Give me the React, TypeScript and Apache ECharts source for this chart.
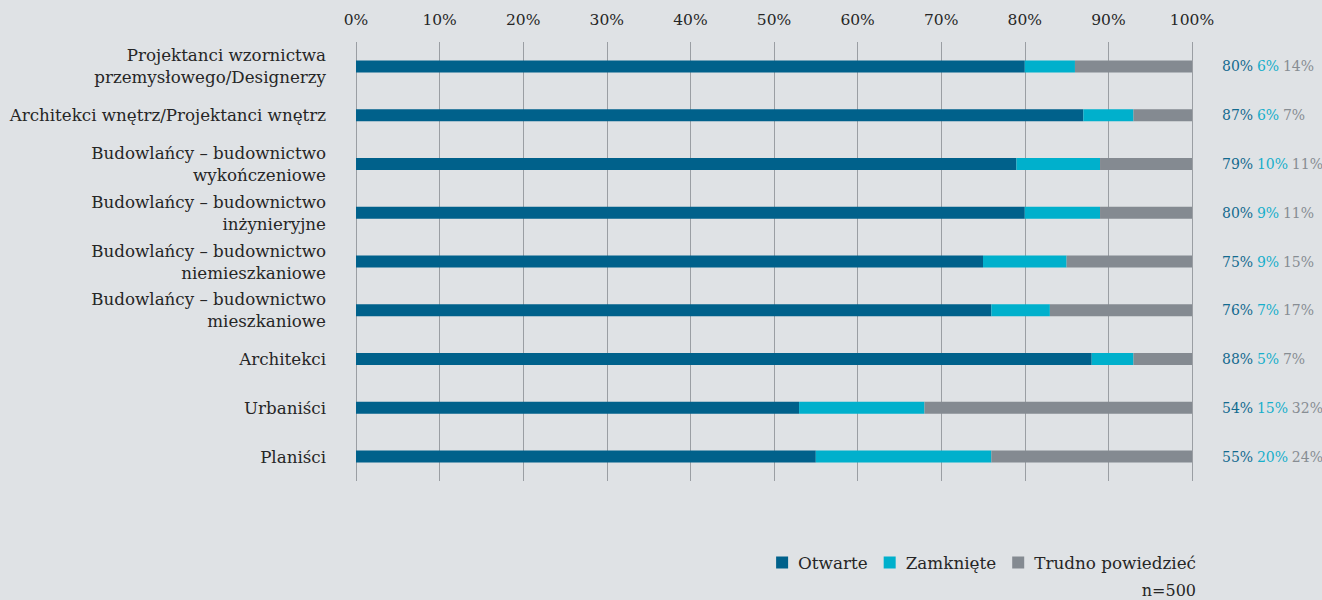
import React, { useEffect, useRef } from "react";
import * as echarts from "echarts";

const categories = [
  "Projektanci wzornictwa\nprzemysłowego/Designerzy",
  "Architekci wnętrz/Projektanci wnętrz",
  "Budowlańcy – budownictwo\nwykończeniowe",
  "Budowlańcy – budownictwo\ninżynieryjne",
  "Budowlańcy – budownictwo\nniemieszkaniowe",
  "Budowlańcy – budownictwo\nmieszkaniowe",
  "Architekci",
  "Urbaniści",
  "Planiści",
];

// bar lengths
const otwarte = [80, 87, 79, 80, 75, 76, 88, 53, 55];
const zamkniete = [6, 6, 10, 9, 10, 7, 5, 15, 21];
const trudno = [14, 7, 11, 11, 15, 17, 7, 32, 24];

// printed value labels
const otwarteLabel = [80, 87, 79, 80, 75, 76, 88, 54, 55];
const zamknieteLabel = [6, 6, 10, 9, 9, 7, 5, 15, 20];
const trudnoLabel = [14, 7, 11, 11, 15, 17, 7, 32, 24];

const seriesNames = ["Otwarte", "Zamknięte", "Trudno powiedzieć"];
const colors = ["#00618b", "#00b0cc", "#848a91"];
const FONT = "DejaVu Serif";
const TEXT = "#262626";

export default function App() {
  const ref = useRef<HTMLDivElement>(null);
  useEffect(() => {
    if (!ref.current) return;
    const chart = echarts.init(ref.current, null, { renderer: "svg" });
    const base = {
      type: "bar",
      stack: "total",
      barWidth: 12,
    };
    chart.setOption({
      animation: false,
      backgroundColor: "#dfe2e5",
      textStyle: { fontFamily: FONT },
      grid: { left: 356, right: 130, top: 42, bottom: 119 },
      legend: {
        right: 121,
        top: 549,
        icon: "rect",
        itemWidth: 12,
        itemHeight: 12,
        itemGap: 16,
        textStyle: {
          fontFamily: FONT,
          fontSize: 16.8,
          color: TEXT,
          padding: [0, 0, 0, 5],
        },
        data: seriesNames,
      },
      xAxis: {
        type: "value",
        position: "top",
        min: 0,
        max: 100,
        interval: 10,
        axisLine: { show: false },
        axisTick: { show: false },
        axisLabel: {
          formatter: "{value}%",
          fontFamily: FONT,
          fontSize: 15.5,
          color: TEXT,
          margin: 14,
        },
        splitLine: { show: true, lineStyle: { color: "#9a9ea3", width: 1 } },
      },
      yAxis: {
        type: "category",
        inverse: true,
        data: categories,
        axisLine: { show: false },
        axisTick: { show: false },
        axisLabel: {
          fontFamily: FONT,
          fontSize: 16.7,
          lineHeight: 22,
          color: TEXT,
          margin: 30,
          align: "right",
        },
      },
      series: [
        { ...base, name: seriesNames[0], data: otwarte, itemStyle: { color: colors[0] } },
        { ...base, name: seriesNames[1], data: zamkniete, itemStyle: { color: colors[1] } },
        {
          ...base,
          name: seriesNames[2],
          data: trudno,
          itemStyle: { color: colors[2] },
          label: {
            show: true,
            position: "right",
            distance: 30,
            formatter: (p: any) => {
              const i = p.dataIndex;
              return `{a|${otwarteLabel[i]}%} {b|${zamknieteLabel[i]}%} {c|${trudnoLabel[i]}%}`;
            },
            rich: {
              a: { color: "#136a8f", fontFamily: FONT, fontSize: 14 },
              b: { color: "#17afcb", fontFamily: FONT, fontSize: 14 },
              c: { color: "#878d93", fontFamily: FONT, fontSize: 14 },
            },
          },
        },
      ],
      graphic: [
        {
          type: "text",
          right: 126,
          top: 582,
          style: { text: "n=500", fontFamily: FONT, fontSize: 16, fill: TEXT },
        },
      ],
    });
    return () => chart.dispose();
  }, []);
  return (
    <div
      ref={ref}
      style={{ position: "fixed", left: 0, top: 0, width: 1322, height: 600 }}
    />
  );
}
